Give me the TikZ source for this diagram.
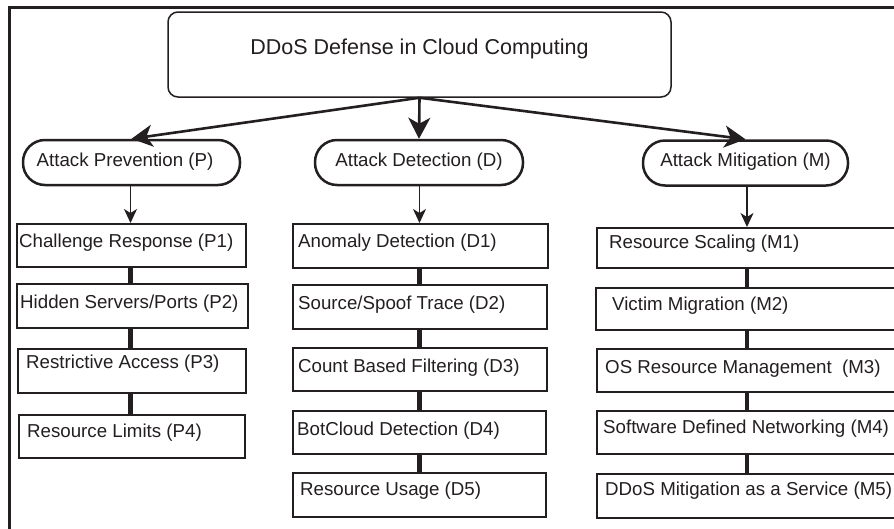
\documentclass[tikz,border=0pt]{standalone}
\usepackage{fontspec}
\setmainfont{Liberation Sans}
\usetikzlibrary{arrows.meta}
\definecolor{ink}{RGB}{35,31,32}
\begin{document}
\begin{tikzpicture}[x=1pt,y=-1pt,
  every node/.style={text=ink},
  txtfont/.style={font=\fontsize{18.7}{22}\selectfont},
  titlebox/.style={draw=ink, line width=1.5pt, rounded corners=10pt, inner sep=0pt,
    minimum width=503pt, minimum height=85pt, text height=15.4pt, text depth=15.4pt,
    font=\fontsize{21.5}{25}\selectfont},
  pill/.style={draw=ink, line width=2.5pt, rounded corners=22pt, inner sep=0pt,
    minimum height=45pt, text height=13.4pt, text depth=6pt, txtfont},
  itembox/.style={draw=ink, line width=2pt, rectangle, inner sep=0pt, anchor=north west},
  itemtext/.style={anchor=base west, inner sep=0pt, txtfont},
  bigarrow/.style={draw=ink, line width=2.6pt, -{Stealth[length=21pt, width=22pt, inset=6pt]}},
  smallarrow/.style={draw=ink, line width=1.5pt, -{Stealth[length=14pt, width=13pt, inset=4pt]}},
  link/.style={draw=ink, line width=4.5pt},
  frameline/.style={draw=ink, line width=3pt}
]
\useasboundingbox (0,0) rectangle (894,528);
\clip (0,0) rectangle (894,528);
\fill[white] (0,0) rectangle (894,528);

% frame
\draw[frameline] (9.5,600) -- (9.5,7.5) -- (1000,7.5);

% title
\node[titlebox] (T) at (419.5,54.5) {DDoS Defense in Cloud Computing};

% categories
\node[pill, minimum width=217pt] (P) at (131.5,162.5) {Attack Prevention (P)\hspace*{13pt}};
\node[pill, minimum width=208pt] (D) at (419,162.5) {Attack Detection (D)};
\node[pill, minimum width=205pt] (M) at (745.5,163) {Attack Mitigation (M)};

\draw[bigarrow] (T.south) -- (P.north);
\draw[bigarrow] (T.south) -- (D.north);
\draw[bigarrow] (T.south) -- (M.north);

% column axes
\coordinate (px) at (130.5,0);
\coordinate (dx) at (419.5,0);
\coordinate (mx) at (747,0);

% prevention boxes
\node[itembox, minimum width=229pt, minimum height=43pt] (P1) at (16,223) {};
\node[itembox, minimum width=231pt, minimum height=44pt] (P2) at (16,283) {};
\node[itembox, minimum width=228pt, minimum height=44pt] (P3) at (17,348) {};
\node[itembox, minimum width=226pt, minimum height=43pt] (P4) at (18,414) {};
\node[itemtext] (tP1) at (19,247) {Challenge Response (P1)};
\node[itemtext] (tP2) at (20,308) {Hidden Servers/Ports (P2)};
\node[itemtext] (tP3) at (26,368) {Restrictive Access (P3)};
\node[itemtext] (tP4) at (27,437) {Resource Limits (P4)};

% detection boxes
\node[itembox, minimum width=255pt, minimum height=44pt] (D1) at (292,223) {};
\node[itembox, minimum width=254pt, minimum height=44pt] (D2) at (292,284) {};
\node[itembox, minimum width=254pt, minimum height=43pt] (D3) at (292,347) {};
\node[itembox, minimum width=253pt, minimum height=43pt] (D4) at (292,410) {};
\node[itembox, minimum width=253pt, minimum height=44pt] (D5) at (292,472) {};
\node[itemtext] (tD1) at (298,247) {Anomaly Detection (D1)};
\node[itemtext] (tD2) at (298,309) {Source/Spoof Trace (D2)};
\node[itemtext] (tD3) at (298,372) {Count Based Filtering (D3)};
\node[itemtext] (tD4) at (297,435) {BotCloud Detection (D4)};
\node[itemtext] (tD5) at (300,495) {Resource Usage (D5)};

% mitigation boxes
\node[itembox, minimum width=320pt, minimum height=40pt] (M1) at (596,227) {};
\node[itembox, minimum width=320pt, minimum height=42pt] (M2) at (595,287) {};
\node[itembox, minimum width=320pt, minimum height=43pt] (M3) at (596,348) {};
\node[itembox, minimum width=320pt, minimum height=43pt] (M4) at (596,410) {};
\node[itembox, minimum width=320pt, minimum height=44pt] (M5) at (596,473) {};
\node[itemtext] (tM1) at (609,248) {Resource Scaling (M1)};
\node[itemtext] (tM2) at (612,310) {Victim Migration (M2)};
\node[itemtext] (tM3) at (605,373) {OS Resource Management\ \ (M3)};
\node[itemtext] (tM4) at (603,433) {Software Defined Networking (M4)};
\node[itemtext] (tM5) at (605,495) {DDoS Mitigation as a Service (M5)};

% arrows category -> first item
\draw[smallarrow] (P.south -| px) -- (P1.north -| px);
\draw[smallarrow] (D.south -| dx) -- (D1.north -| dx);
\draw[smallarrow] (M.south -| mx) -- (M1.north -| mx);

% links between items
\draw[link] (P1.south -| px) -- (P2.north -| px);
\draw[link] (P2.south -| px) -- (P3.north -| px);
\draw[link] (P3.south -| px) -- (P4.north -| px);

\draw[link] (D1.south -| dx) -- (D2.north -| dx);
\draw[link] (D2.south -| dx) -- (D3.north -| dx);
\draw[link] (D3.south -| dx) -- (D4.north -| dx);
\draw[link] (D4.south -| dx) -- (D5.north -| dx);

\draw[link] (M1.south -| mx) -- (M2.north -| mx);
\draw[link] (M2.south -| mx) -- (M3.north -| mx);
\draw[link] (M3.south -| mx) -- (M4.north -| mx);
\draw[link] (M4.south -| mx) -- (M5.north -| mx);
\end{tikzpicture}
\end{document}
